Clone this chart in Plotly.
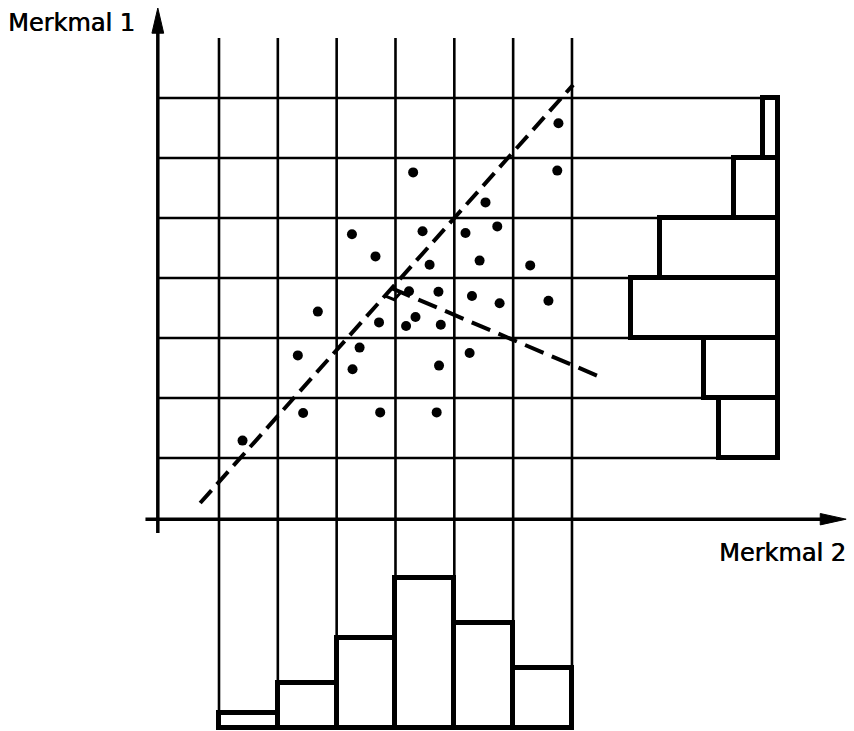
import numpy as np
import plotly.graph_objects as go

# --- data -------------------------------------------------------------
# Observations (Merkmal 2 on x, Merkmal 1 on y), in grid-cell units
merkmal2 = [5.77, 3.30, 5.75, 4.53, 2.26, 3.46, 4.19, 4.73, 2.66, 3.58,
            4.43, 5.29, 3.23, 3.73, 4.30, 4.77, 5.60, 1.68, 2.72, 3.34,
            3.18, 3.77, 4.26, 2.39, 1.34, 2.27, 3.74, 1.43, 2.74, 3.70,
            0.40]
merkmal1 = [5.58, 4.76, 4.79, 4.26, 3.73, 3.78, 3.75, 3.86, 3.36, 3.22,
            3.29, 3.21, 2.78, 2.77, 2.70, 2.58, 2.62, 2.44, 2.26, 2.35,
            2.20, 2.22, 1.75, 1.84, 1.71, 1.48, 1.54, 0.75, 0.76, 0.76,
            0.29]

# class counts of the marginal distributions
count_merkmal2 = [1, 3, 6, 10, 7, 4]   # columns, left to right
count_merkmal1 = [4, 5, 10, 8, 3, 1]   # rows, bottom to top

# first principal axis (endpoints) and end of the second axis
axis1_x = [-0.32, 6.02]
axis1_y = [-0.75, 6.22]
axis2_end = (6.53, 1.33)

# --- geometry / style -------------------------------------------------
N = 6                     # number of classes per feature
SCALE = 0.25              # histogram length per observation
HIST_R = 9.5              # right edge of the Merkmal-1 histogram
HIST_B = -4.5             # bottom edge of the Merkmal-2 histogram
AX_X = -1.04              # position of the vertical axis
AX_Y = -1.02              # position of the horizontal axis
GRID_TOP = 7.0
BLACK = "#000000"

fig = go.Figure()

# grid: vertical lines run down into the lower histogram,
# horizontal lines run right into the side histogram
gx, gy = [], []
for i in range(N + 1):
    gx += [i, i, None]
    gy += [GRID_TOP, HIST_B, None]
for j in range(N + 1):
    gx += [AX_X, HIST_R, None]
    gy += [j, j, None]
fig.add_trace(go.Scatter(x=gx, y=gy, mode="lines",
                         line=dict(color=BLACK, width=2.6), hoverinfo="skip"))

# marginal histograms
centers = [i + 0.5 for i in range(N)]
fig.add_trace(go.Bar(x=centers, y=[SCALE * c for c in count_merkmal2],
                     base=HIST_B, width=1.0,
                     marker=dict(color="white", line=dict(color=BLACK, width=5))))
fig.add_trace(go.Bar(y=centers, x=[-SCALE * c for c in count_merkmal1],
                     base=HIST_R, width=1.0, orientation="h",
                     marker=dict(color="white", line=dict(color=BLACK, width=5))))

# coordinate axes
fig.add_trace(go.Scatter(x=[AX_X, AX_X], y=[-1.25, 7.1], mode="lines",
                         line=dict(color=BLACK, width=3.5), hoverinfo="skip"))
fig.add_trace(go.Scatter(x=[-1.25, 10.3], y=[AX_Y, AX_Y], mode="lines",
                         line=dict(color=BLACK, width=3.5), hoverinfo="skip"))
# arrow heads
fig.add_trace(go.Scatter(x=[AX_X - 0.1, AX_X, AX_X + 0.1, AX_X - 0.1],
                         y=[7.08, 7.5, 7.08, 7.08], mode="lines", fill="toself",
                         fillcolor=BLACK, line=dict(color=BLACK, width=1),
                         hoverinfo="skip"))
fig.add_trace(go.Scatter(x=[10.22, 10.66, 10.22, 10.22],
                         y=[AX_Y - 0.095, AX_Y, AX_Y + 0.095, AX_Y - 0.095],
                         mode="lines", fill="toself",
                         fillcolor=BLACK, line=dict(color=BLACK, width=1),
                         hoverinfo="skip"))

# principal axes (dashed)
fig.add_trace(go.Scatter(x=axis1_x, y=axis1_y, mode="lines",
                         line=dict(color=BLACK, width=4, dash="17px,8px"),
                         hoverinfo="skip"))
# intersection of axis 1 with axis 2
d1 = np.array([axis1_x[1] - axis1_x[0], axis1_y[1] - axis1_y[0]])
m1 = d1[1] / d1[0]
ex, ey = axis2_end
# axis 2 leaves axis 1 at the point where it is hit by the line through
# axis2_end with slope -0.417
m2 = -0.417
ix = (ey - m2 * ex - axis1_y[0] + m1 * axis1_x[0]) / (m1 - m2)
iy = axis1_y[0] + m1 * (ix - axis1_x[0])
fig.add_trace(go.Scatter(x=[ix, ex], y=[iy, ey], mode="lines",
                         line=dict(color=BLACK, width=4, dash="20px,9px"),
                         hoverinfo="skip"))
# right-angle mark
u1 = -d1 / np.linalg.norm(d1)
d2 = np.array([ex - ix, ey - iy])
u2 = d2 / np.linalg.norm(d2)
s = 0.17
p1 = np.array([ix, iy]) + s * u1
pc = p1 + s * u2
p2 = np.array([ix, iy]) + s * u2
fig.add_trace(go.Scatter(x=[p1[0], pc[0], p2[0]], y=[p1[1], pc[1], p2[1]],
                         mode="lines", line=dict(color=BLACK, width=3),
                         hoverinfo="skip"))

# observations
fig.add_trace(go.Scatter(x=merkmal2, y=merkmal1, mode="markers",
                         marker=dict(color=BLACK, size=10), hoverinfo="skip"))

W, H = 854, 731
font = dict(family="DejaVu Sans", size=24, color=BLACK,
            shadow="0.6px 0px 0px #000000")
fig.add_annotation(text="Merkmal 1", xref="paper", yref="paper",
                   x=71 / W, y=1 - 23 / H, xanchor="center", yanchor="middle",
                   showarrow=False, font=font)
fig.add_annotation(text="Merkmal 2", xref="paper", yref="paper",
                   x=782 / W, y=1 - 553 / H, xanchor="center", yanchor="middle",
                   showarrow=False, font=font)

px_x, px_y = 58.83, 60.0      # pixels per grid cell
fig.update_layout(
    width=W, height=H, margin=dict(l=0, r=0, t=0, b=0),
    paper_bgcolor="white", plot_bgcolor="white", showlegend=False,
    xaxis=dict(range=[-219 / px_x, (W - 219) / px_x], visible=False,
               fixedrange=True),
    yaxis=dict(range=[(458 - H) / px_y, 458 / px_y], visible=False,
               fixedrange=True),
    bargap=0,
)

fig.write_html("out.html")
